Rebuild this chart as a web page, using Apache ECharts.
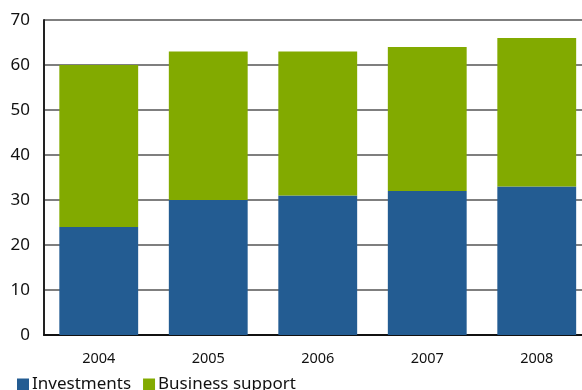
<!DOCTYPE html>
<html><head><meta charset="utf-8">
<script src="https://cdn.jsdelivr.net/npm/echarts@6/dist/echarts.min.js"></script>
<style>html,body{margin:0;padding:0;background:#fff;overflow:hidden;width:582px;height:390px}#c{width:592px;height:390px}</style>
</head><body><div id="c"></div>
<script>
var categories = ['2004','2005','2006','2007','2008'];
var investments = [24, 30, 31, 32, 33];
var businessSupport = [36, 33, 32, 32, 33];
var yTicks = [0,10,20,30,40,50,60,70];

var chart = echarts.init(document.getElementById('c'), null, {renderer:'canvas'});
var font = '"Noto Sans", "DejaVu Sans", sans-serif';
chart.setOption({
  animation:false,
  grid:{left:44, width:547.5, top:20, height:315, containLabel:false},
  legend:{
    left:12, top:371, itemWidth:12, itemHeight:12, itemGap:12,
    icon:'rect',
    textStyle:{fontFamily:font, fontSize:17, color:'#111', padding:[0,0,0,-2]},
    data:['Investments','Business support']
  },
  xAxis:{
    type:'category', data:categories,
    axisLine:{lineStyle:{color:'#111', width:2}},
    axisTick:{show:false},
    axisLabel:{fontFamily:font, fontSize:14.5, color:'#111', margin:16}
  },
  yAxis:{
    type:'value', min:0, max:70, interval:10,
    axisLine:{show:true, lineStyle:{color:'#222', width:2}},
    axisTick:{show:false},
    splitLine:{lineStyle:{color:'#555', width:1.5}},
    axisLabel:{fontFamily:font, fontSize:17, color:'#111', margin:14,
      formatter:function(v){return yTicks.indexOf(v)>=0?String(v):'';}}
  },
  series:[
    {name:'Investments', type:'bar', stack:'a', data:investments, barWidth:'72%',
     itemStyle:{color:'#235C92'}},
    {name:'Business support', type:'bar', stack:'a', data:businessSupport, barWidth:'72%',
     itemStyle:{color:'#82AA00'}}
  ]
});
</script></body></html>
